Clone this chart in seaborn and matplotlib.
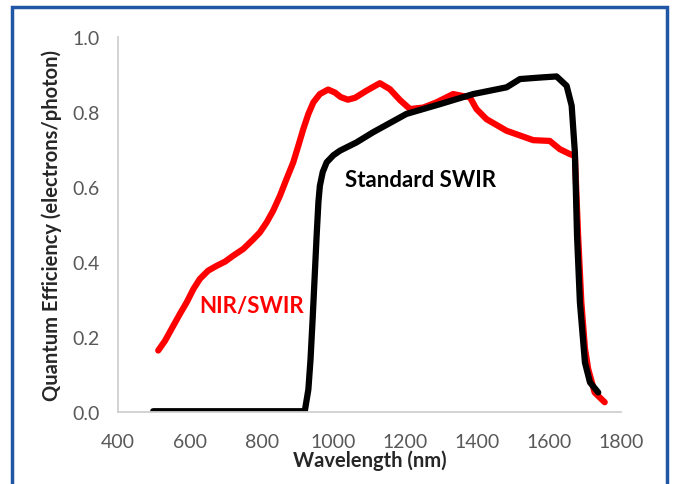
import matplotlib
matplotlib.use("Agg")
import matplotlib.pyplot as plt
import seaborn as sns
import numpy as np
import pandas as pd
from matplotlib.patches import Rectangle

# values
nir_wl = [512, 531, 554, 572, 591, 610, 628, 651, 675, 698, 721, 749, 777,
          795, 814, 832, 851, 869, 888, 902, 916, 930, 944, 962, 985, 1004,
          1020, 1040, 1060, 1092, 1129, 1157, 1185, 1213, 1250, 1287, 1333,
          1380, 1398, 1426, 1482, 1556, 1602, 1630, 1658, 1672, 1681, 1690,
          1700, 1709, 1727, 1755]
nir_qe = [0.164, 0.190, 0.230, 0.261, 0.292, 0.328, 0.355, 0.377, 0.390,
          0.401, 0.417, 0.435, 0.461, 0.479, 0.506, 0.537, 0.577, 0.621,
          0.666, 0.710, 0.755, 0.795, 0.826, 0.848, 0.860, 0.852, 0.840,
          0.833, 0.838, 0.857, 0.877, 0.861, 0.832, 0.808, 0.812, 0.826,
          0.848, 0.839, 0.808, 0.781, 0.750, 0.725, 0.723, 0.701, 0.688,
          0.683, 0.470, 0.292, 0.170, 0.115, 0.052, 0.026]

std_wl = [498, 700, 920, 930, 936, 942, 947, 953, 958, 962, 970, 981, 1000,
          1018, 1064, 1110, 1203, 1296, 1389, 1482, 1519, 1574, 1621, 1649,
          1663, 1672, 1678, 1686, 1700, 1714, 1737]
std_qe = [0.002, 0.002, 0.002, 0.060, 0.140, 0.250, 0.350, 0.470, 0.560,
          0.603, 0.640, 0.666, 0.685, 0.697, 0.719, 0.746, 0.795, 0.821,
          0.848, 0.866, 0.888, 0.892, 0.895, 0.870, 0.817, 0.692, 0.470,
          0.292, 0.132, 0.079, 0.052]

series_names = ["NIR/SWIR", "Standard SWIR"]
series_colors = ["#ff0000", "#000000"]
x_ticks = [400, 600, 800, 1000, 1200, 1400, 1600, 1800]
y_ticks = [0.0, 0.2, 0.4, 0.6, 0.8, 1.0]

df = pd.concat([
    pd.DataFrame({"wl": nir_wl, "qe": nir_qe, "sensor": series_names[0]}),
    pd.DataFrame({"wl": std_wl, "qe": std_qe, "sensor": series_names[1]}),
])

sns.set_style("white")
plt.rcParams["font.family"] = ["Lato", "DejaVu Sans"]

fig = plt.figure(figsize=(6.75, 4.85), dpi=100)
ax = fig.add_axes([0.1748, 0.1485, 0.745, 0.773])

sns.lineplot(data=df, x="wl", y="qe", hue="sensor", sort=False,
             palette=dict(zip(series_names, series_colors)),
             linewidth=4.5, legend=False, ax=ax, estimator=None)
for line in ax.get_lines():
    line.set_solid_joinstyle("round")
    line.set_solid_capstyle("round")

ax.set_xlim(400, 1800)
ax.set_ylim(0, 1.0)
ax.set_xticks(x_ticks)
ax.set_yticks(y_ticks)
ax.set_yticklabels([f"{v:.1f}" for v in y_ticks])
ax.set_yticks(np.arange(0.1, 1.0, 0.2), minor=True)

for side in ["top", "right"]:
    ax.spines[side].set_visible(False)
for side in ["left", "bottom"]:
    ax.spines[side].set_color("#d0d0d0")
    ax.spines[side].set_linewidth(1.3)

ax.tick_params(axis="both", which="both", direction="inout", length=10,
               width=1.3, color="#d0d0d0", labelcolor="#595959", labelsize=14)
ax.tick_params(axis="x", pad=10)
ax.tick_params(axis="y", pad=8)

ax.set_xlabel("Wavelength (nm)", fontsize=14.5, fontweight="bold",
              color="#262626", labelpad=0)
ax.set_ylabel("Quantum Efficiency (electrons/photon)", fontsize=14.5,
              fontweight="bold", color="#262626")
ax.yaxis.set_label_coords(-0.111, 0.5)

ax.text(773, 0.283, "NIR/SWIR", color="#ff0000", fontsize=16,
        fontweight="bold", ha="center", va="center")
ax.text(1243, 0.621, "Standard SWIR", color="#000000", fontsize=16,
        fontweight="bold", ha="center", va="center")

# blue frame around the picture (open at the bottom edge)
frame = Rectangle((12 / 675, -0.05), (667 - 12) / 675, 1.05 - 7.5 / 485,
                  transform=fig.transFigure, fill=False,
                  edgecolor="#1f56a5", linewidth=2.5, clip_on=False)
fig.patches.append(frame)

fig.savefig("out.png", dpi=100)
